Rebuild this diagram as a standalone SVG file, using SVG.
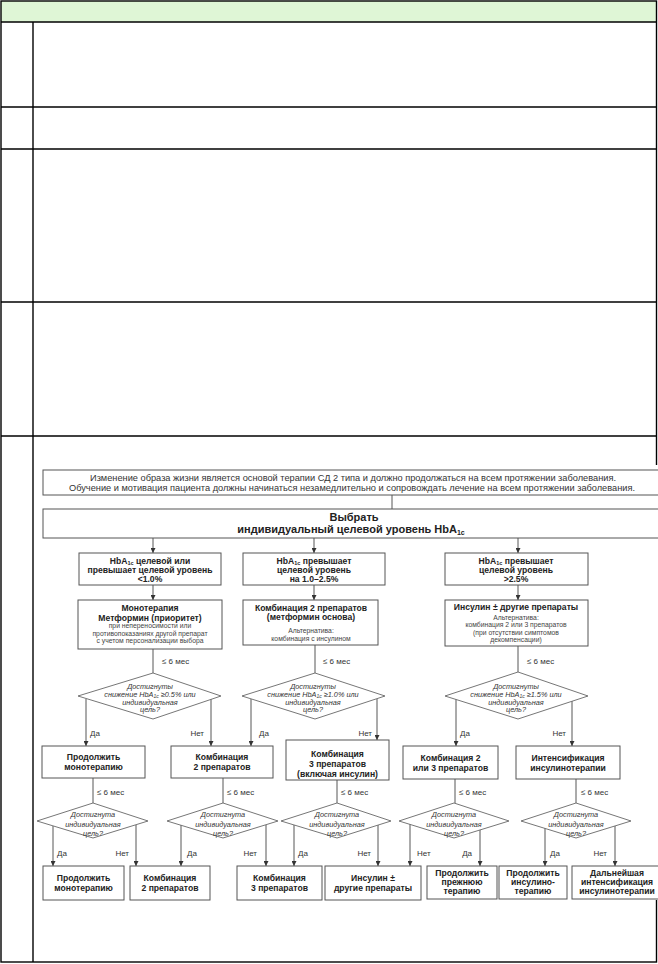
<svg xmlns="http://www.w3.org/2000/svg" width="658" height="964" viewBox="0 0 658 964">
<defs>
<marker id="ah" markerWidth="5" markerHeight="5" refX="5" refY="2.5" orient="auto" markerUnits="userSpaceOnUse"><path d="M0,0 L5,2.5 L0,5 z" fill="#333"/></marker>
<style>
.tb{stroke:#000;stroke-width:1.4;fill:none}
.bx{fill:#fff;stroke:#555;stroke-width:1}
.dm{fill:#fff;stroke:#666;stroke-width:0.9}
.ln{stroke:#444;stroke-width:0.9;fill:none}
.ar{stroke:#444;stroke-width:0.9;fill:none;marker-end:url(#ah)}
text{font-family:"Liberation Sans","Noto Sans",Arial,sans-serif;fill:#222}
.b{font-weight:bold;font-size:8.6px;text-anchor:middle}
.s{font-size:6.8px;text-anchor:middle;fill:#444}
.i{font-style:italic;font-size:7.3px;text-anchor:middle;fill:#333}
.l{font-size:8px;fill:#333}
.m{font-size:8px;fill:#333}
.t{font-size:8.6px;text-anchor:middle;fill:#333}
</style>
</defs>

<g id="table">
<rect x="1" y="1" width="655" height="21" fill="#dff6d6"/>
<rect class="tb" x="1" y="1" width="655.5" height="961"/>
<line class="tb" x1="1" y1="22" x2="656.5" y2="22"/>
<line class="tb" x1="1" y1="107" x2="656.5" y2="107"/>
<line class="tb" x1="1" y1="149" x2="656.5" y2="149"/>
<line class="tb" x1="1" y1="302" x2="656.5" y2="302"/>
<line class="tb" x1="1" y1="436" x2="656.5" y2="436"/>
<line class="tb" x1="33" y1="22" x2="33" y2="962"/>
</g>

<rect x="36" y="465" width="622" height="435" fill="#fff"/>

<g id="connectors">
<line class="ln" x1="392" y1="495" x2="392" y2="509"/>
<line class="ar" x1="153" y1="538" x2="153" y2="553"/>
<line class="ar" x1="314" y1="538" x2="314" y2="553"/>
<line class="ar" x1="518" y1="538" x2="518" y2="553"/>
<line class="ar" x1="153" y1="585" x2="153" y2="600"/>
<line class="ar" x1="314" y1="585" x2="314" y2="600"/>
<line class="ar" x1="518" y1="585" x2="518" y2="600"/>
<line class="ln" x1="153" y1="649" x2="153" y2="673"/>
<line class="ln" x1="315" y1="645" x2="315" y2="673"/>
<line class="ln" x1="518" y1="646" x2="518" y2="672"/>
<line class="ar" x1="86" y1="699" x2="86" y2="746"/>
<line class="ar" x1="211" y1="699" x2="211" y2="746"/>
<line class="ar" x1="251" y1="699" x2="251" y2="746"/>
<line class="ar" x1="377" y1="699" x2="377" y2="740"/>
<line class="ar" x1="456" y1="699" x2="456" y2="746"/>
<line class="ar" x1="572" y1="699" x2="572" y2="746"/>
<line class="ln" x1="93" y1="778" x2="93" y2="803"/>
<line class="ln" x1="223" y1="778" x2="223" y2="803"/>
<line class="ln" x1="337" y1="780" x2="337" y2="803"/>
<line class="ln" x1="455" y1="779" x2="455" y2="803"/>
<line class="ln" x1="576" y1="779" x2="576" y2="803"/>
<line class="ar" x1="53" y1="826" x2="53" y2="866"/>
<line class="ar" x1="136" y1="825" x2="136" y2="866"/>
<line class="ar" x1="181" y1="825" x2="181" y2="866"/>
<line class="ar" x1="266" y1="825" x2="266" y2="866"/>
<line class="ar" x1="294" y1="825" x2="294" y2="866"/>
<line class="ar" x1="378" y1="825" x2="378" y2="866"/>
<line class="ar" x1="410" y1="824" x2="410" y2="866"/>
<line class="ar" x1="480" y1="829" x2="480" y2="866"/>
<line class="ar" x1="545" y1="828" x2="545" y2="866"/>
<line class="ar" x1="615" y1="826" x2="615" y2="866"/>
<text class="m" x="162" y="664">≤ 6 мес</text>
<text class="m" x="323" y="664">≤ 6 мес</text>
<text class="m" x="527" y="664">≤ 6 мес</text>
<text class="l" x="90" y="736">Да</text>
<text class="l" x="204" y="736" text-anchor="end">Нет</text>
<text class="l" x="259" y="736">Да</text>
<text class="l" x="372" y="736" text-anchor="end">Нет</text>
<text class="l" x="460" y="736">Да</text>
<text class="l" x="566" y="736" text-anchor="end">Нет</text>
<text class="m" x="97" y="795">≤ 6 мес</text>
<text class="m" x="227" y="795">≤ 6 мес</text>
<text class="m" x="341" y="795">≤ 6 мес</text>
<text class="m" x="459" y="795">≤ 6 мес</text>
<text class="m" x="581" y="795">≤ 6 мес</text>
<text class="l" x="57" y="856">Да</text>
<text class="l" x="129" y="856" text-anchor="end">Нет</text>
<text class="l" x="187" y="856">Да</text>
<text class="l" x="257" y="856" text-anchor="end">Нет</text>
<text class="l" x="298" y="856">Да</text>
<text class="l" x="371" y="856" text-anchor="end">Нет</text>
<text class="l" x="417" y="856">Нет</text>
<text class="l" x="472" y="856" text-anchor="end">Да</text>
<text class="l" x="550" y="856">Да</text>
<text class="l" x="607" y="856" text-anchor="end">Нет</text>
</g>

<g id="lifestyle">
<rect class="bx" x="43" y="470" width="618" height="25"/>
<text class="t" x="353" y="480.5" textLength="526" lengthAdjust="spacingAndGlyphs">Изменение образа жизни является основой терапии СД 2 типа и должно продолжаться на всем протяжении заболевания.</text>
<text class="t" x="352" y="490.5" textLength="566" lengthAdjust="spacingAndGlyphs">Обучение и мотивация пациента должны начинаться незамедлительно и сопровождать лечение на всем протяжении заболевания.</text>
</g>

<g id="choose">
<rect class="bx" x="43" y="509" width="618" height="29"/>
<text class="b" x="354" y="521" style="font-size:11px">Выбрать</text>
<text class="b" x="351" y="533" style="font-size:11px">индивидуальный целевой уровень HbA<tspan font-size="7" dy="2">1c</tspan></text>
</g>

<g id="hba1">
<rect class="bx" x="79" y="553" width="142" height="32"/>
<text class="b" x="150" y="563.5">HbA<tspan font-size="5.5" dy="1.5">1c</tspan><tspan dy="-1.5"> целевой или</tspan></text>
<text class="b" x="150" y="572.5">превышает целевой уровень</text>
<text class="b" x="150" y="581.5">&lt;1.0%</text>
</g>
<g id="hba2">
<rect class="bx" x="243" y="553" width="142" height="32"/>
<text class="b" x="314" y="563.5">HbA<tspan font-size="5.5" dy="1.5">1c</tspan><tspan dy="-1.5"> превышает</tspan></text>
<text class="b" x="314" y="572.5">целевой уровень</text>
<text class="b" x="314" y="581.5">на 1.0–2.5%</text>
</g>
<g id="hba3">
<rect class="bx" x="445" y="553" width="143" height="32"/>
<text class="b" x="516" y="563.5">HbA<tspan font-size="5.5" dy="1.5">1c</tspan><tspan dy="-1.5"> превышает</tspan></text>
<text class="b" x="516" y="572.5">целевой уровень</text>
<text class="b" x="516" y="581.5">&gt;2.5%</text>
</g>

<g id="mono">
<rect class="bx" x="78" y="600" width="144" height="49"/>
<text class="b" x="150" y="610.5">Монотерапия</text>
<text class="b" x="150" y="620.5">Метформин (приоритет)</text>
<text class="s" x="150" y="628">при непереносимости или</text>
<text class="s" x="150" y="635.5">противопоказаниях другой препарат</text>
<text class="s" x="150" y="643">с учетом персонализации выбора</text>
</g>
<g id="combo2main">
<rect class="bx" x="243" y="600" width="135" height="45"/>
<text class="b" x="311" y="610.5">Комбинация 2 препаратов</text>
<text class="b" x="311" y="620">(метформин основа)</text>
<text class="s" x="311" y="633">Альтернатива:</text>
<text class="s" x="311" y="641">комбинация с инсулином</text>
</g>
<g id="insulinmain">
<rect class="bx" x="445" y="600" width="143" height="46"/>
<text class="b" x="516" y="610">Инсулин ± другие препараты</text>
<text class="s" x="516" y="619.5">Альтернатива:</text>
<text class="s" x="516" y="627">комбинация 2 или 3 препаратов</text>
<text class="s" x="516" y="634.5">(при отсутствии симптомов</text>
<text class="s" x="516" y="642">декомпенсации)</text>
</g>

<g id="q1">
<polygon class="dm" points="153,673 221,696 153,719 78,696"/>
<text class="i" x="150" y="689">Достигнуты</text>
<text class="i" x="150" y="696.5">снижение HbA<tspan font-size="5" dy="1.5">1c</tspan><tspan dy="-1.5"> ≥0.5% или</tspan></text>
<text class="i" x="150" y="704.5">индивидуальная</text>
<text class="i" x="150" y="712">цель?</text>
</g>
<g id="q2">
<polygon class="dm" points="315,673 385,696 315,719 242,696"/>
<text class="i" x="313" y="689">Достигнуты</text>
<text class="i" x="313" y="696.5">снижение HbA<tspan font-size="5" dy="1.5">1c</tspan><tspan dy="-1.5"> ≥1.0% или</tspan></text>
<text class="i" x="313" y="704.5">индивидуальная</text>
<text class="i" x="313" y="712">цель?</text>
</g>
<g id="q3">
<polygon class="dm" points="518,672 588,696 518,719 445,696"/>
<text class="i" x="516" y="689">Достигнуты</text>
<text class="i" x="516" y="696.5">снижение HbA<tspan font-size="5" dy="1.5">1c</tspan><tspan dy="-1.5"> ≥1.5% или</tspan></text>
<text class="i" x="516" y="704.5">индивидуальная</text>
<text class="i" x="516" y="712">цель?</text>
</g>

<g id="contmono1">
<rect class="bx" x="42" y="746" width="103" height="32"/>
<text class="b" x="93.5" y="760">Продолжить</text>
<text class="b" x="93.5" y="770">монотерапию</text>
</g>
<g id="combo2a">
<rect class="bx" x="171" y="746" width="102" height="32"/>
<text class="b" x="222" y="760">Комбинация</text>
<text class="b" x="222" y="770">2 препаратов</text>
</g>
<g id="combo3a">
<rect class="bx" x="286" y="740" width="103" height="40"/>
<text class="b" x="337.5" y="757">Комбинация</text>
<text class="b" x="337.5" y="767">3 препаратов</text>
<text class="b" x="337.5" y="777">(включая инсулин)</text>
</g>
<g id="combo23">
<rect class="bx" x="403" y="746" width="95" height="33"/>
<text class="b" x="450.5" y="761">Комбинация 2</text>
<text class="b" x="450.5" y="771">или 3 препаратов</text>
</g>
<g id="intens">
<rect class="bx" x="516" y="746" width="104" height="33"/>
<text class="b" x="568" y="761">Интенсификация</text>
<text class="b" x="568" y="771">инсулинотерапии</text>
</g>

<g id="q4">
<polygon class="dm" points="93,803 148,821 93,838 37,821"/>
<text class="i" x="93" y="816.5">Достигнута</text>
<text class="i" x="93" y="826.5">индивидуальная</text>
<text class="i" x="93" y="836">цель?</text>
</g>
<g id="q5">
<polygon class="dm" points="223,803 278,821 223,838 167,821"/>
<text class="i" x="223" y="816.5">Достигнута</text>
<text class="i" x="223" y="826.5">индивидуальная</text>
<text class="i" x="223" y="836">цель?</text>
</g>
<g id="q6">
<polygon class="dm" points="337,803 391,821 337,838 281,821"/>
<text class="i" x="337" y="816.5">Достигнута</text>
<text class="i" x="337" y="826.5">индивидуальная</text>
<text class="i" x="337" y="836">цель?</text>
</g>
<g id="q7">
<polygon class="dm" points="454,803 509,821 454,838 399,821"/>
<text class="i" x="454" y="816.5">Достигнута</text>
<text class="i" x="454" y="826.5">индивидуальная</text>
<text class="i" x="454" y="836">цель?</text>
</g>
<g id="q8">
<polygon class="dm" points="576,803 631,821 576,838 521,821"/>
<text class="i" x="576" y="816.5">Достигнута</text>
<text class="i" x="576" y="826.5">индивидуальная</text>
<text class="i" x="576" y="836">цель?</text>
</g>

<g id="contmono2">
<rect class="bx" x="43" y="866" width="81" height="34"/>
<text class="b" x="83.5" y="880.5">Продолжить</text>
<text class="b" x="83.5" y="890.5">монотерапию</text>
</g>
<g id="combo2b">
<rect class="bx" x="130" y="866" width="80" height="34"/>
<text class="b" x="170" y="880.5">Комбинация</text>
<text class="b" x="170" y="890.5">2 препаратов</text>
</g>
<g id="combo3b">
<rect class="bx" x="237" y="866" width="85" height="34"/>
<text class="b" x="279.5" y="880.5">Комбинация</text>
<text class="b" x="279.5" y="890.5">3 препаратов</text>
</g>
<g id="insulinother">
<rect class="bx" x="325" y="866" width="96" height="34"/>
<text class="b" x="373" y="880.5">Инсулин ±</text>
<text class="b" x="373" y="890.5">другие препараты</text>
</g>
<g id="contprev">
<rect class="bx" x="427" y="866" width="70" height="33"/>
<text class="b" x="462" y="876">Продолжить</text>
<text class="b" x="462" y="885">прежнюю</text>
<text class="b" x="462" y="894">терапию</text>
</g>
<g id="contins">
<rect class="bx" x="499" y="866" width="68" height="33"/>
<text class="b" x="533" y="876">Продолжить</text>
<text class="b" x="533" y="885">инсулино-</text>
<text class="b" x="533" y="894">терапию</text>
</g>
<g id="furtherintens">
<rect class="bx" x="572" y="866" width="92" height="33"/>
<text class="b" x="617" y="876">Дальнейшая</text>
<text class="b" x="617" y="885">интенсификация</text>
<text class="b" x="617" y="894">инсулинотерапии</text>
</g>
</svg>
